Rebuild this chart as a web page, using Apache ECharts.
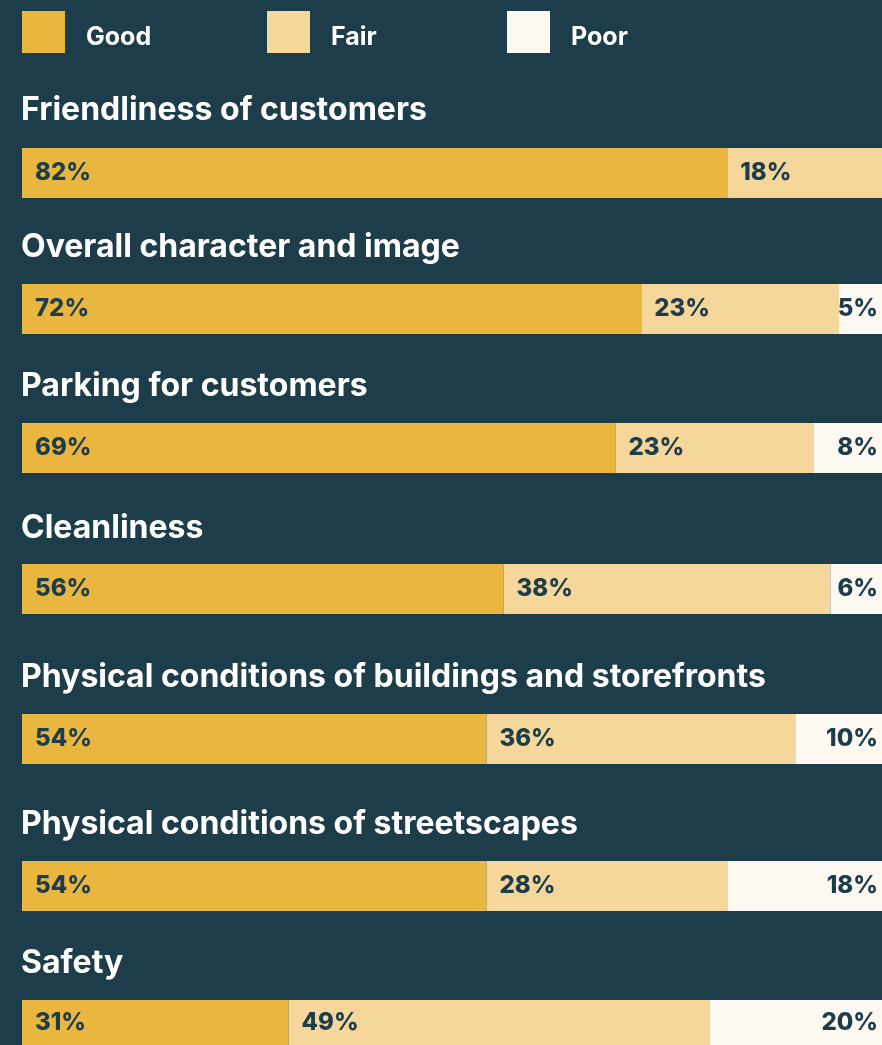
<!DOCTYPE html>
<html>
<head>
<meta charset="utf-8">
<script src="https://cdn.jsdelivr.net/npm/echarts@6/dist/echarts.min.js"></script>
<style>
  html, body { margin: 0; padding: 0; background: #1d3d4b; }
  #chart { width: 882px; height: 1045px; }
</style>
</head>
<body>
<div id="chart"></div>
<script>
// Survey ratings per downtown attribute (percent of respondents)
const categories = [
  'Friendliness of customers',
  'Overall character and image',
  'Parking for customers',
  'Cleanliness',
  'Physical conditions of buildings and storefronts',
  'Physical conditions of streetscapes',
  'Safety'
];
const good = [82, 72, 69, 56, 54, 54, 31];
const fair = [18, 23, 23, 38, 36, 28, 49];
const poor = [0, 5, 8, 6, 10, 18, 20];
const ratingNames = ['Good', 'Fair', 'Poor'];

// Layout: vertical centre of each title and top of its bar
const titleY = [110, 247, 386, 528, 677, 824, 963];
const barTop = [148, 284, 423, 564, 714, 861, 1000];
const BAR_H = 50;

const BG = '#1d3d4b';
const COLORS = ['#e9b640', '#f5d79c', '#fdf9f2'];
const FONT = 'Inter, "Noto Sans", sans-serif';

const chart = echarts.init(document.getElementById('chart'), null, { renderer: 'canvas' });

const grids = [], xAxes = [], yAxes = [], series = [], graphics = [];
const seriesValues = [good, fair, poor];

categories.forEach((cat, i) => {
  grids.push({ left: 22, right: 0, top: barTop[i], height: BAR_H, containLabel: false });
  xAxes.push({ gridIndex: i, type: 'value', min: 0, max: 100, show: false });
  yAxes.push({ gridIndex: i, type: 'category', data: [cat], show: false });
  graphics.push({
    type: 'text', x: 21, y: titleY[i],
    style: { text: cat, fill: '#ffffff', font: '700 32px ' + FONT, verticalAlign: 'middle' }
  });
  seriesValues.forEach((vals, k) => {
    series.push({
      name: ratingNames[k],
      type: 'bar',
      stack: 'row' + i,
      xAxisIndex: i,
      yAxisIndex: i,
      barWidth: BAR_H,
      data: [vals[i]],
      itemStyle: { color: COLORS[k] },
      silent: true,
      label: {
        show: vals[i] > 0,
        position: k === 2 ? 'insideRight' : 'insideLeft',
        distance: k === 2 ? 4 : 13,
        formatter: p => p.value + '%',
        color: BG,
        fontFamily: FONT,
        fontWeight: 800,
        fontSize: 24
      }
    });
  });
});

// One legend per rating so each swatch sits at its own horizontal spot
const legendLeft = [22, 267, 507];
const legends = ratingNames.map((n, k) => ({
  data: [n],
  left: legendLeft[k],
  top: 11,
  padding: 0,
  itemWidth: 43,
  itemHeight: 42,
  itemGap: 0,
  icon: 'rect',
  selectedMode: false,
  formatter: '{t|{name}}',
  textStyle: {
    rich: {
      t: { color: '#ffffff', fontSize: 25, fontWeight: 700, fontFamily: FONT, padding: [10, 0, 0, 16] }
    }
  },
  itemStyle: { color: COLORS[k] }
}));

chart.setOption({
  backgroundColor: BG,
  animation: false,
  legend: legends,
  grid: grids,
  xAxis: xAxes,
  yAxis: yAxes,
  graphic: graphics,
  series: series
});
</script>
</body>
</html>
